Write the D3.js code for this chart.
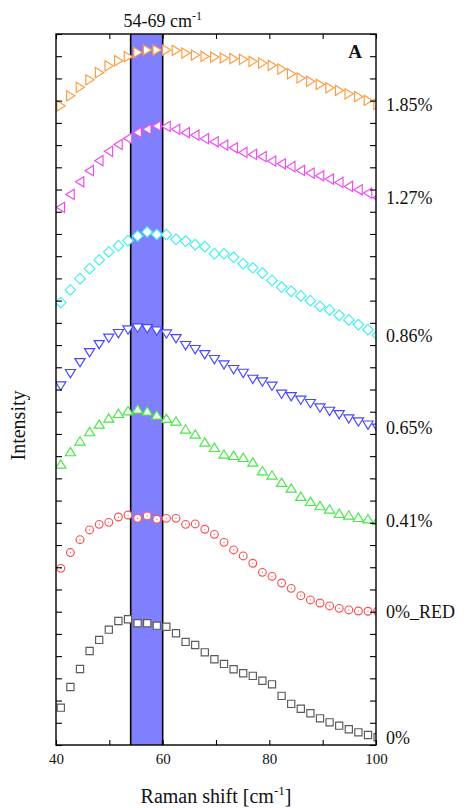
<!DOCTYPE html>
<html>
<head>
<meta charset="utf-8">
<script src="https://cdn.jsdelivr.net/npm/d3@7"></script>
<style>
  html, body { margin: 0; padding: 0; background: #fff; }
  svg { display: block; }
  svg text { font-family: "Liberation Serif", "DejaVu Serif", serif !important; fill: #111; }
</style>
</head>
<body>
<svg id="chart" width="470" height="808"></svg>
<script>
// ---------- data ----------
const ramanShift = [40.9, 42.7, 44.5, 46.3, 48.1, 49.9, 51.7, 53.5, 55.3, 57.1, 58.9, 60.7, 62.5, 64.3, 66.1, 67.9, 69.7,
  71.5, 73.3, 75.1, 76.9, 78.7, 80.5, 82.3, 84.1, 85.9, 87.7, 89.5, 91.3, 93.1, 94.9, 96.7, 98.5, 100.3];

const seriesLabels = ["0%", "0%_RED", "0.41%", "0.65%", "0.86%", "1.27%", "1.85%"];

const int0 = [1.68, 2.61, 3.42, 4.23, 4.73, 5.19, 5.58, 5.66, 5.48, 5.48, 5.37, 5.32, 5.03, 4.64, 4.50, 4.17, 3.86,
  3.65, 3.41, 3.23, 3.11, 2.89, 2.73, 2.21, 1.85, 1.63, 1.43, 1.20, 1.02, 0.87, 0.71, 0.57, 0.45, 0.35];
const int0Red = [7.95, 8.66, 9.24, 9.68, 9.93, 10.02, 10.26, 10.35, 10.20, 10.31, 10.16, 10.20, 10.20, 9.93, 9.95, 9.71, 9.48,
  9.12, 8.78, 8.51, 8.18, 7.77, 7.59, 7.29, 7.05, 6.72, 6.53, 6.39, 6.26, 6.15, 6.08, 6.03, 6.02, 6.02];
const int041 = [12.63, 13.19, 13.67, 14.09, 14.43, 14.70, 14.91, 15.03, 15.11, 15.02, 14.84, 14.69, 14.57, 14.21, 13.98, 13.62, 13.38,
  13.08, 13.02, 12.93, 12.72, 12.33, 12.14, 11.81, 11.55, 11.18, 10.95, 10.76, 10.61, 10.41, 10.34, 10.23, 10.17, 10.10];
const int065 = [16.17, 16.73, 17.22, 17.67, 18.03, 18.32, 18.53, 18.69, 18.78, 18.75, 18.65, 18.51, 18.30, 17.99, 17.81, 17.58, 17.36,
  17.12, 16.91, 16.74, 16.47, 16.35, 16.16, 15.80, 15.69, 15.53, 15.38, 15.18, 15.03, 14.88, 14.69, 14.55, 14.41, 14.27];
const int086 = [19.91, 20.48, 20.99, 21.44, 21.83, 22.19, 22.47, 22.70, 22.91, 23.09, 22.98, 22.97, 22.76, 22.68, 22.52, 22.43, 22.11,
  22.11, 21.95, 21.66, 21.48, 21.24, 20.91, 20.61, 20.42, 20.21, 20.00, 19.74, 19.58, 19.34, 19.13, 18.92, 18.69, 18.44];
const int127 = [24.20, 24.78, 25.35, 25.85, 26.30, 26.72, 27.03, 27.30, 27.57, 27.71, 27.86, 27.84, 27.71, 27.56, 27.45, 27.29, 27.15,
  27.00, 26.88, 26.67, 26.58, 26.48, 26.28, 26.16, 26.03, 25.86, 25.74, 25.62, 25.47, 25.32, 25.14, 24.99, 24.84, 24.63];
const int185 = [28.77, 29.22, 29.60, 29.94, 30.26, 30.57, 30.80, 30.98, 31.17, 31.28, 31.28, 31.28, 31.26, 31.14, 31.05, 30.99, 30.96,
  30.92, 30.89, 30.86, 30.77, 30.69, 30.59, 30.42, 30.21, 30.02, 29.87, 29.73, 29.58, 29.46, 29.31, 29.18, 29.01, 28.83];

const bandRange = [54, 60];
const bandLabel = "54-69 cm";
const xTicks = [40, 50, 60, 70, 80, 90, 100];
const xTickLabels = [40, 60, 80, 100];
const xDomain = [40, 100];
const yDomain = [0, 32];

// ---------- layout ----------
const W = 470, H = 808;
const M = { top: 34, right: 94, bottom: 63, left: 56 };
const iw = W - M.left - M.right, ih = H - M.top - M.bottom;
const FONT = '"Liberation Serif", "DejaVu Serif", serif';

const svg = d3.select("#chart");
const x = d3.scaleLinear().domain(xDomain).range([M.left, M.left + iw]);
const y = d3.scaleLinear().domain(yDomain).range([M.top + ih, M.top]);

const series = [
  { label: seriesLabels[0], values: int0,    shape: "square",  color: "#5a5a5a" },
  { label: seriesLabels[1], values: int0Red, shape: "circle",  color: "#ff5050" },
  { label: seriesLabels[2], values: int041,  shape: "up",      color: "#44e844" },
  { label: seriesLabels[3], values: int065,  shape: "down",    color: "#4646ff" },
  { label: seriesLabels[4], values: int086,  shape: "diamond", color: "#3ef0f0" },
  { label: seriesLabels[5], values: int127,  shape: "left",    color: "#f048f0" },
  { label: seriesLabels[6], values: int185,  shape: "right",   color: "#ff9a3c" }
];

svg.append("defs").append("clipPath").attr("id", "plotClip")
  .append("rect").attr("x", M.left).attr("y", M.top).attr("width", iw).attr("height", ih);

// band
svg.append("rect")
  .attr("x", x(bandRange[0])).attr("y", M.top)
  .attr("width", x(bandRange[1]) - x(bandRange[0])).attr("height", ih)
  .attr("fill", "#8080ff");
bandRange.forEach(v => {
  svg.append("line").attr("x1", x(v)).attr("x2", x(v)).attr("y1", M.top).attr("y2", M.top + ih)
    .attr("stroke", "#000").attr("stroke-width", 1.6);
});

// marker shapes
function shapePath(s) {
  switch (s) {
    case "square": return "M-3.6,-3.6H3.6V3.6H-3.6Z";
    case "up": return "M-5.1,3.8L0,-4.5L5.1,3.8Z";
    case "down": return "M-5.1,-3.8L0,4.5L5.1,-3.8Z";
    case "left": return "M3.8,-5.1L-4.5,0L3.8,5.1Z";
    case "right": return "M-3.8,-5.1L4.5,0L-3.8,5.1Z";
    case "diamond": return "M0,-5.3L5.3,0L0,5.3L-5.3,0Z";
  }
  return "";
}

const plot = svg.append("g").attr("clip-path", "url(#plotClip)");
series.forEach(s => {
  const g = plot.append("g");
  s.values.forEach((v, i) => {
    const px = x(ramanShift[i]), py = y(v);
    if (s.shape === "circle") {
      g.append("circle").attr("cx", px).attr("cy", py).attr("r", 3.9)
        .attr("fill", "#fff").attr("stroke", s.color).attr("stroke-width", 1.15);
      g.append("circle").attr("cx", px).attr("cy", py).attr("r", 0.6).attr("fill", s.color);
    } else {
      g.append("path").attr("d", shapePath(s.shape))
        .attr("transform", `translate(${px},${py})`)
        .attr("fill", "#fff").attr("stroke", s.color).attr("stroke-width", 1.15)
        .attr("stroke-linejoin", "miter");
    }
  });
});

// axes (ticks inward, no y labels)
const fmtX = d => xTickLabels.includes(d) ? d : "";
const axB = svg.append("g").attr("transform", `translate(0,${M.top + ih})`)
  .call(d3.axisBottom(x).tickValues(xTicks).tickSizeInner(-5).tickSizeOuter(0).tickPadding(8).tickFormat(fmtX));
const axT = svg.append("g").attr("transform", `translate(0,${M.top})`)
  .call(d3.axisTop(x).tickValues(xTicks).tickSizeInner(-5).tickSizeOuter(0).tickFormat(""));
const yTicks = d3.range(yDomain[0], yDomain[1] + 1, 1);
const axL = svg.append("g").attr("transform", `translate(${M.left},0)`)
  .call(d3.axisLeft(y).tickValues(yTicks).tickSizeInner(-6).tickSizeOuter(0).tickFormat(""));
const axR = svg.append("g").attr("transform", `translate(${M.left + iw},0)`)
  .call(d3.axisRight(y).tickValues(yTicks).tickSizeInner(-6).tickSizeOuter(0).tickFormat(""));
[axB, axT, axL, axR].forEach(a => {
  a.attr("font-family", FONT);
  a.select(".domain").remove();
  a.selectAll(".tick line").attr("stroke", "#000").attr("stroke-width", 1.1);
});
axB.selectAll(".tick text").attr("font-size", 15).attr("fill", "#111").attr("font-family", FONT);

// frame
svg.append("rect").attr("x", M.left).attr("y", M.top).attr("width", iw).attr("height", ih)
  .attr("fill", "none").attr("stroke", "#000").attr("stroke-width", 1.4);

// series labels on the right
series.forEach(s => {
  const last = s.values[s.values.length - 1];
  svg.append("text").attr("x", M.left + iw + 10).attr("y", y(last)).attr("dy", "0.35em")
    .attr("font-family", FONT).attr("font-size", 18).text(s.label);
});

// band label
const bl = svg.append("text").attr("x", (x(bandRange[0]) + x(bandRange[1])) / 2 + 16).attr("y", 27)
  .attr("text-anchor", "middle").attr("font-family", FONT).attr("font-size", 18);
bl.append("tspan").text(bandLabel);
bl.append("tspan").attr("font-size", 12).attr("dy", -7).text("-1");

// panel letter
svg.append("text").attr("x", 355).attr("y", 58).attr("text-anchor", "middle")
  .attr("font-family", FONT).attr("font-size", 19).attr("font-weight", "bold").text("A");

// axis titles
const xt = svg.append("text").attr("x", M.left + iw / 2).attr("y", 803).attr("text-anchor", "middle")
  .attr("font-family", FONT).attr("font-size", 20);
xt.append("tspan").text("Raman shift [cm");
xt.append("tspan").attr("font-size", 13).attr("dy", -8).text("-1");
xt.append("tspan").attr("dy", 8).text("]");

svg.append("text").attr("transform", `translate(25,${M.top + ih / 2 + 36}) rotate(-90)`)
  .attr("text-anchor", "middle").attr("font-family", FONT).attr("font-size", 20).text("Intensity");
</script>
</body>
</html>
